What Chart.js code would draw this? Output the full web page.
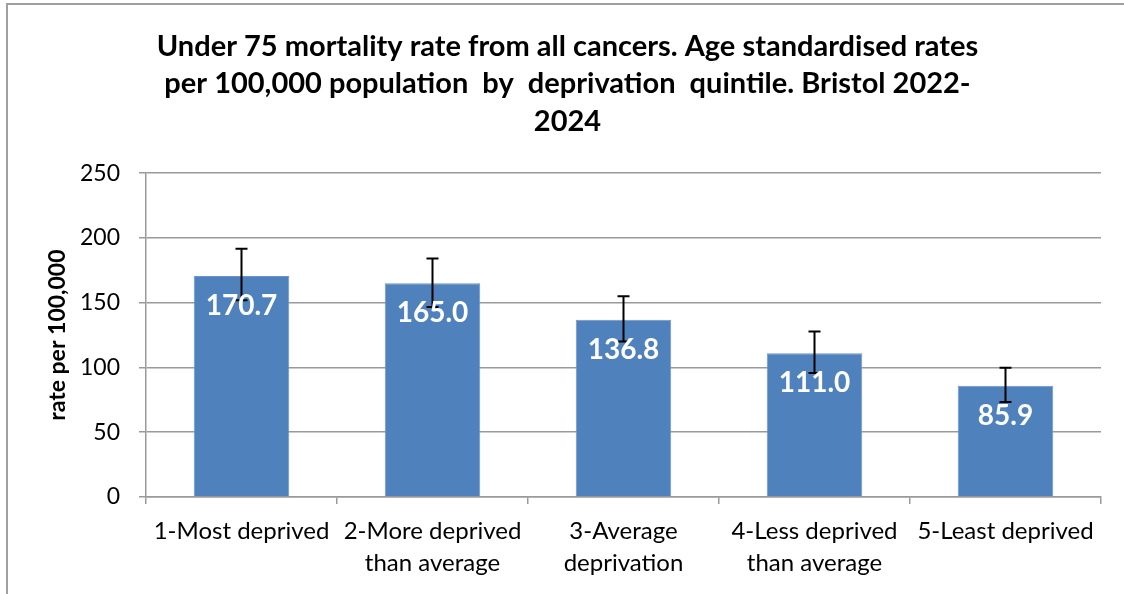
<!DOCTYPE html>
<html>
<head>
<meta charset="utf-8">
<script src="https://cdn.jsdelivr.net/npm/chart.js@4/dist/chart.umd.min.js"></script>
<style>
  html, body { margin: 0; padding: 0; background: #fff; }
  #wrap { position: relative; width: 1124px; height: 594px; }
  #frame { position: absolute; left: 6px; top: 3px; right: 0; bottom: 0;
           border-left: 2px solid #a0a0a0; border-top: 2px solid #a0a0a0; pointer-events: none; }
</style>
</head>
<body>
<div id="wrap">
  <canvas id="chart" width="1124" height="594"></canvas>
  <div id="frame"></div>
</div>
<script>
// quintile labels (multi-line where the original wraps)
const categories = [
  "1-Most deprived",
  ["2-More deprived", "than average"],
  ["3-Average", "deprivation"],
  ["4-Less deprived", "than average"],
  "5-Least deprived"
];
// age standardised rate per 100,000
const rates = [170.7, 165.0, 136.8, 111.0, 85.9];
// 95% confidence limits
const lowerCI = [151.9, 146.8, 120.0, 95.7, 73.3];
const upperCI = [191.7, 184.2, 155.0, 127.7, 99.8];

const yTicks = [0, 50, 100, 150, 200, 250];

const FONT = "Lato, 'Liberation Sans', sans-serif";

// error bars drawn with the y scale
const errorBars = {
  id: "errorBars",
  afterDatasetsDraw(chart) {
    const { ctx, scales: { y } } = chart;
    const meta = chart.getDatasetMeta(0);
    ctx.save();
    ctx.strokeStyle = "#000";
    ctx.lineWidth = 2;
    meta.data.forEach((bar, i) => {
      const top = y.getPixelForValue(upperCI[i]);
      const bot = y.getPixelForValue(lowerCI[i]);
      const x = bar.x;
      ctx.beginPath();
      ctx.moveTo(x, top); ctx.lineTo(x, bot);
      ctx.moveTo(x - 6, top); ctx.lineTo(x + 6, top);
      ctx.moveTo(x - 6, bot); ctx.lineTo(x + 6, bot);
      ctx.stroke();
    });
    ctx.restore();
  }
};

// value labels inside the bars, near the top
const valueLabels = {
  id: "valueLabels",
  afterDatasetsDraw(chart) {
    const { ctx } = chart;
    const meta = chart.getDatasetMeta(0);
    ctx.save();
    ctx.fillStyle = "#fff";
    ctx.font = "bold 28px " + FONT;
    ctx.textAlign = "center";
    ctx.textBaseline = "middle";
    meta.data.forEach((bar, i) => {
      ctx.fillText(rates[i].toFixed(1), bar.x, bar.y + 30);
    });
    ctx.restore();
  }
};

new Chart(document.getElementById("chart"), {
  type: "bar",
  data: {
    labels: categories,
    datasets: [{
      data: rates,
      backgroundColor: "#4f81bd",
      borderColor: "#6b96cb",
      borderWidth: 1,
      categoryPercentage: 1.0,
      barPercentage: 0.5
    }]
  },
  options: {
    responsive: false,
    animation: false,
    layout: { padding: { left: 34, right: 23, bottom: 0 } },
    plugins: {
      legend: { display: false },
      tooltip: { enabled: false },
      title: {
        display: true,
        text: [
          "Under 75 mortality rate from all cancers. Age standardised rates",
          "per 100,000 population  by  deprivation  quintile. Bristol 2022-",
          "2024"
        ],
        color: "#000",
        font: { family: FONT, size: 29, weight: "bold", lineHeight: 1.29 },
        padding: { top: 28, bottom: 33 }
      }
    },
    scales: {
      x: {
        offset: true,
        grid: { drawOnChartArea: false, drawTicks: true, tickLength: 7, color: "#9a9a9a", lineWidth: 1.5, offset: true },
        border: { color: "#9a9a9a", width: 1.5 },
        ticks: { color: "#000", font: { family: FONT, size: 24, lineHeight: 1.3 }, padding: 12, maxRotation: 0, autoSkip: false },
        afterFit(scale) { scale.height = 97; }
      },
      y: {
        min: 0,
        max: 250,
        afterBuildTicks(scale) { scale.ticks = yTicks.map(v => ({ value: v })); },
        grid: { color: "#9a9a9a", lineWidth: 1.5, tickLength: 7 },
        border: { color: "#9a9a9a", width: 1.5 },
        ticks: { color: "#000", font: { family: FONT, size: 23 }, padding: 19 },
        title: {
          display: true,
          text: "rate per 100,000",
          color: "#000",
          font: { family: FONT, size: 23, weight: "bold", lineHeight: 1.2 },
          padding: { top: 10 }
        },
        afterFit(scale) { scale.width = 112; }
      }
    }
  },
  plugins: [errorBars, valueLabels]
});
</script>
</body>
</html>
